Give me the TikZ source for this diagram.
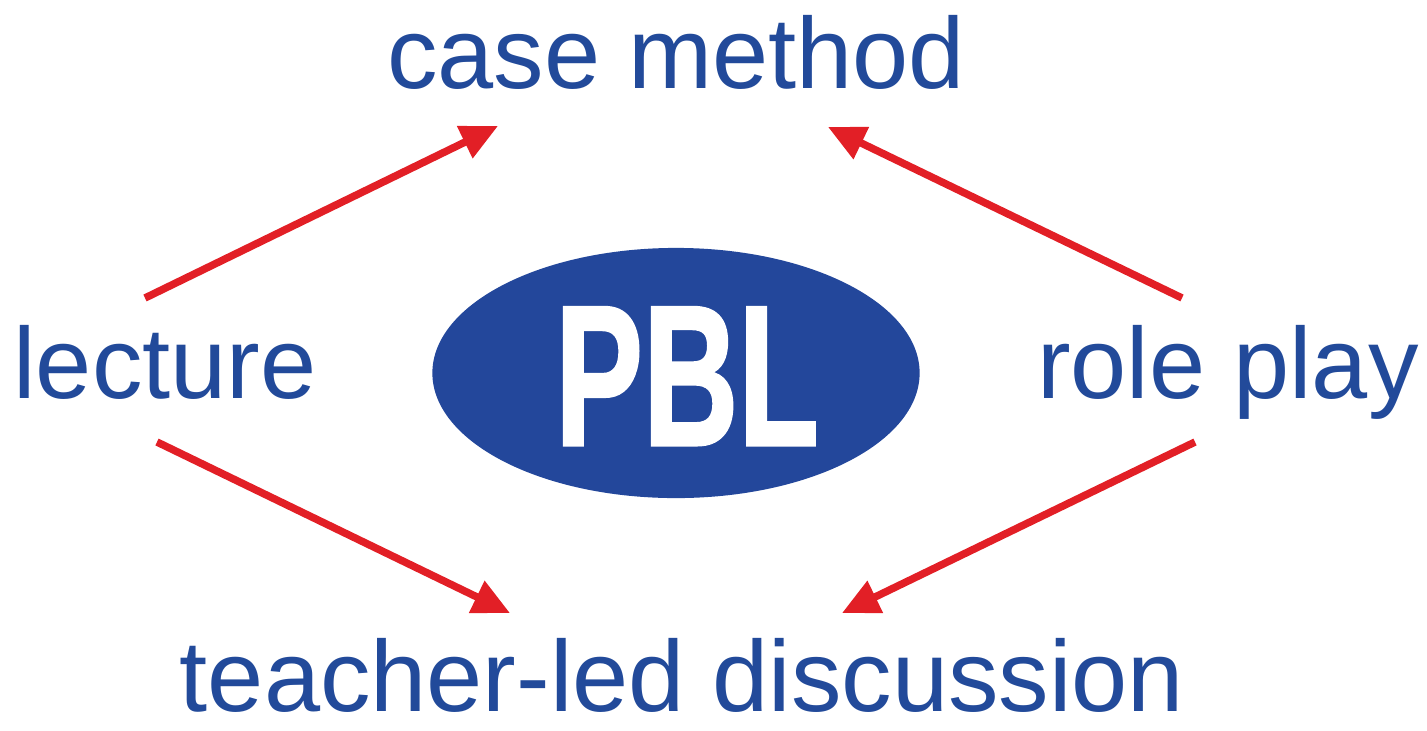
\documentclass[tikz,border=0pt]{standalone}
\usepackage{fontspec}
\setmainfont{Liberation Sans}
\newfontfamily\pblfont[FakeBold=1.5]{Liberation Sans}
\usetikzlibrary{arrows.meta,shapes.geometric}
\definecolor{pblblue}{RGB}{34,74,154}
\definecolor{pblfill}{RGB}{35,71,155}
\definecolor{pblred}{RGB}{226,31,38}
\tikzset{
  lbl/.style={text=pblblue, inner sep=0pt, anchor=base, font=\fontsize{28.7pt}{30pt}\selectfont},
  conn/.style={draw=pblred, line width=0.075cm, -{Triangle[length=0.37cm,width=0.34cm]}},
}
\begin{document}
\begin{tikzpicture}[x=0.01cm,y=-0.01cm]
\useasboundingbox (0,0) rectangle (1427,730);
\node[lbl] (cm) at (676,88) {case method};
\node[lbl] (lec) at (165,398) {lecture};
\node[lbl] (rp) at (1228,398) {role play};
\node[lbl, text depth=0pt] (tld) at (682,711) {teacher-led discussion};
\node[ellipse, fill=pblfill, inner sep=0pt, minimum width=4.87cm, minimum height=2.5cm] (pbl) at (676,373) {};
\node[text=white, inner sep=0pt, anchor=base, font=\pblfont\fontsize{56.9pt}{60pt}\selectfont\bfseries] (pbltext) at (687,445) {\scalebox{0.66}[1]{PBL}};
\coordinate (a1s) at (145,298);
\coordinate (a1e) at (498,126);
\coordinate (a2s) at (1182,298);
\coordinate (a2e) at (828,127);
\coordinate (a3s) at (157,442);
\coordinate (a3e) at (510,613);
\coordinate (a4s) at (1195,442);
\coordinate (a4e) at (842,613);
\draw[conn] (a1s) -- (a1e);
\draw[conn] (a2s) -- (a2e);
\draw[conn] (a3s) -- (a3e);
\draw[conn] (a4s) -- (a4e);
\end{tikzpicture}
\end{document}
